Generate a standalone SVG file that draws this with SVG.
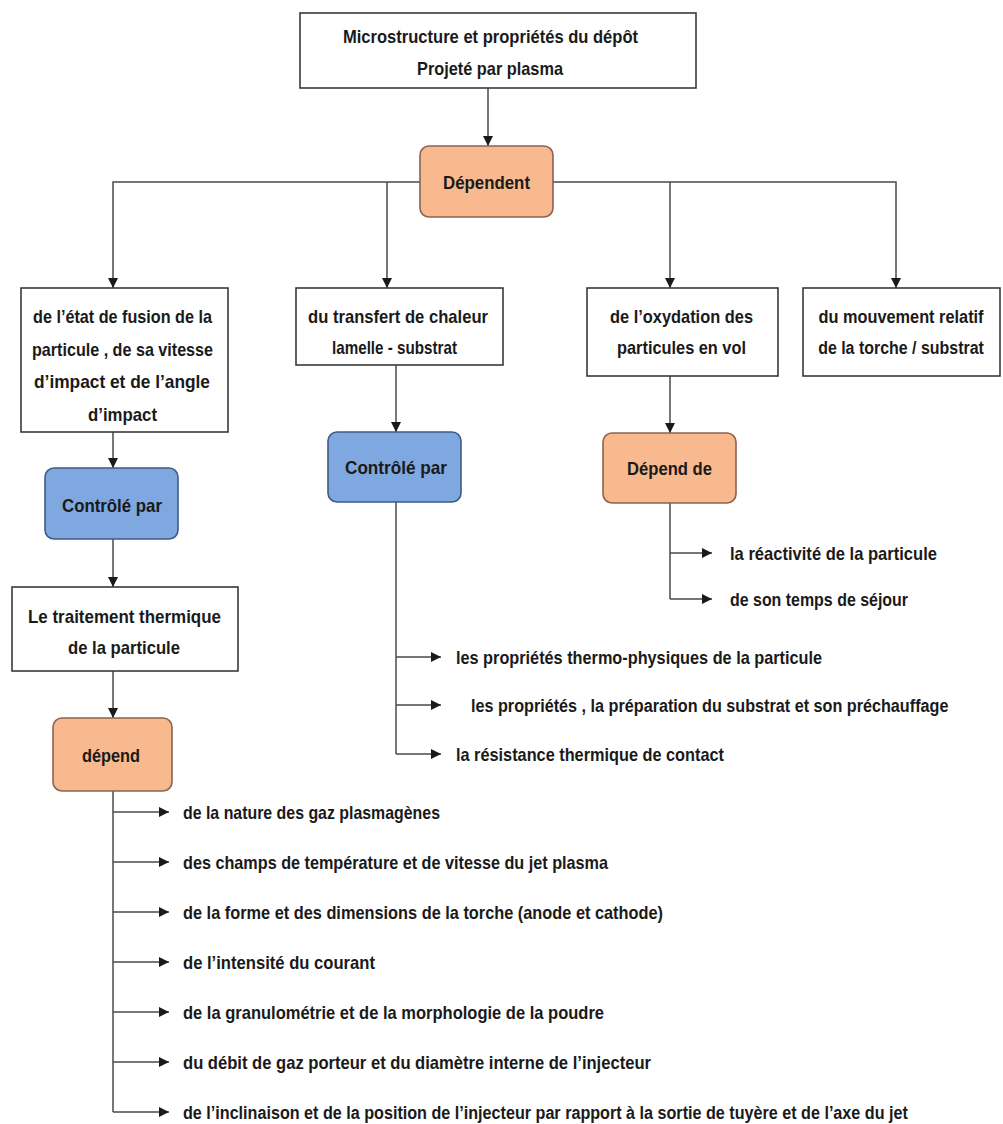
<svg xmlns="http://www.w3.org/2000/svg" width="1003" height="1124" viewBox="0 0 1003 1124">
<style>
text{font-family:"Liberation Sans",Arial,sans-serif;font-weight:bold;font-size:19px;fill:#1a1a1a}
.box{fill:#ffffff;stroke:#3a3a3a;stroke-width:1.6}
.org{fill:#F8B98E;stroke:#8a6450;stroke-width:1.6}
.blu{fill:#7FA7E0;stroke:#3f5a85;stroke-width:1.6}
.ln{fill:none;stroke:#4a4a4a;stroke-width:1.5}
</style>
<defs>
<marker id="ah" viewBox="0 0 10 10" refX="10" refY="5" markerWidth="10" markerHeight="10" markerUnits="userSpaceOnUse" orient="auto">
<path d="M0,0 L10,5 L0,10 z" fill="#1a1a1a"/>
</marker>
</defs>
<rect width="1003" height="1124" fill="#ffffff"/>
<g id="connectors">
<line class="ln" x1="488" y1="88" x2="488" y2="146" marker-end="url(#ah)"/>
<polyline class="ln" points="420,182 113,182 113,288" marker-end="url(#ah)"/>
<polyline class="ln" points="553,182 896,182 896,288" marker-end="url(#ah)"/>
<line class="ln" x1="387" y1="182" x2="387" y2="288" marker-end="url(#ah)"/>
<line class="ln" x1="670" y1="182" x2="670" y2="288" marker-end="url(#ah)"/>
<line class="ln" x1="113" y1="432" x2="113" y2="468" marker-end="url(#ah)"/>
<line class="ln" x1="113" y1="539" x2="113" y2="587" marker-end="url(#ah)"/>
<line class="ln" x1="113" y1="671" x2="113" y2="718" marker-end="url(#ah)"/>
<line class="ln" x1="113" y1="791" x2="113" y2="1112"/>
<line class="ln" x1="113" y1="812" x2="169" y2="812" marker-end="url(#ah)"/>
<line class="ln" x1="113" y1="862" x2="169" y2="862" marker-end="url(#ah)"/>
<line class="ln" x1="113" y1="912" x2="169" y2="912" marker-end="url(#ah)"/>
<line class="ln" x1="113" y1="962" x2="169" y2="962" marker-end="url(#ah)"/>
<line class="ln" x1="113" y1="1012" x2="169" y2="1012" marker-end="url(#ah)"/>
<line class="ln" x1="113" y1="1062" x2="169" y2="1062" marker-end="url(#ah)"/>
<line class="ln" x1="113" y1="1112" x2="169" y2="1112" marker-end="url(#ah)"/>
<line class="ln" x1="396" y1="365" x2="396" y2="432" marker-end="url(#ah)"/>
<line class="ln" x1="396" y1="502" x2="396" y2="754"/>
<line class="ln" x1="396" y1="657" x2="441" y2="657" marker-end="url(#ah)"/>
<line class="ln" x1="396" y1="705" x2="441" y2="705" marker-end="url(#ah)"/>
<line class="ln" x1="396" y1="754" x2="441" y2="754" marker-end="url(#ah)"/>
<line class="ln" x1="670" y1="376" x2="670" y2="433" marker-end="url(#ah)"/>
<line class="ln" x1="670" y1="503" x2="670" y2="599"/>
<line class="ln" x1="670" y1="553" x2="712" y2="553" marker-end="url(#ah)"/>
<line class="ln" x1="670" y1="599" x2="712" y2="599" marker-end="url(#ah)"/>
</g>
<g id="n-top">
<rect class="box" x="300" y="13" width="396" height="75"/>
<text x="343" y="43" textLength="295" lengthAdjust="spacingAndGlyphs">Microstructure et propriétés du dépôt</text>
<text x="417" y="75" textLength="146" lengthAdjust="spacingAndGlyphs">Projeté par plasma</text>
</g>
<g id="n-dependent">
<rect class="org" x="420" y="146" width="133" height="71" rx="9"/>
<text x="443" y="189" textLength="87" lengthAdjust="spacingAndGlyphs">Dépendent</text>
</g>
<g id="n-fusion">
<rect class="box" x="21" y="288" width="207" height="144"/>
<text x="33" y="323" textLength="179" lengthAdjust="spacingAndGlyphs">de l’état de fusion de la</text>
<text x="32" y="356" textLength="181" lengthAdjust="spacingAndGlyphs">particule ,  de sa vitesse</text>
<text x="34" y="388" textLength="176" lengthAdjust="spacingAndGlyphs">d’impact  et de l’angle</text>
<text x="88" y="421" textLength="69" lengthAdjust="spacingAndGlyphs">d’impact</text>
</g>
<g id="n-transfert">
<rect class="box" x="296" y="288" width="207" height="77"/>
<text x="308" y="323" textLength="180" lengthAdjust="spacingAndGlyphs">du transfert de chaleur</text>
<text x="332" y="354" textLength="125" lengthAdjust="spacingAndGlyphs">lamelle - substrat</text>
</g>
<g id="n-oxydation">
<rect class="box" x="587" y="288" width="191" height="88"/>
<text x="610" y="323" textLength="143" lengthAdjust="spacingAndGlyphs">de l’oxydation des</text>
<text x="617" y="354" textLength="129" lengthAdjust="spacingAndGlyphs">particules en vol</text>
</g>
<g id="n-mouvement">
<rect class="box" x="803" y="288" width="197" height="88"/>
<text transform="translate(901,323) scale(0.86,1)" text-anchor="middle">du mouvement relatif</text>
<text transform="translate(901,354) scale(0.84,1)" text-anchor="middle">de la torche / substrat</text>
</g>
<g id="n-controle1">
<rect class="blu" x="45" y="468" width="133" height="71" rx="9"/>
<text x="62" y="512" textLength="100" lengthAdjust="spacingAndGlyphs">Contrôlé par</text>
</g>
<g id="n-traitement">
<rect class="box" x="12" y="587" width="226" height="84"/>
<text x="28" y="623" textLength="193" lengthAdjust="spacingAndGlyphs">Le traitement thermique</text>
<text x="68" y="654" textLength="112" lengthAdjust="spacingAndGlyphs">de la particule</text>
</g>
<g id="n-depend">
<rect class="org" x="53" y="718" width="119" height="73" rx="9"/>
<text x="82" y="762" textLength="58" lengthAdjust="spacingAndGlyphs">dépend</text>
</g>
<g id="n-controle2">
<rect class="blu" x="328" y="432" width="133" height="70" rx="9"/>
<text x="345" y="474" textLength="102" lengthAdjust="spacingAndGlyphs">Contrôlé par</text>
</g>
<g id="n-dependde">
<rect class="org" x="603" y="433" width="133" height="70" rx="9"/>
<text x="627" y="475" textLength="85" lengthAdjust="spacingAndGlyphs">Dépend de</text>
</g>
<g id="n-list-oxydation">
<text x="730" y="560" textLength="207" lengthAdjust="spacingAndGlyphs">la réactivité de la particule</text>
<text x="730" y="606" textLength="178" lengthAdjust="spacingAndGlyphs">de son temps de séjour</text>
</g>
<g id="n-list-transfert">
<text x="456" y="664" textLength="366" lengthAdjust="spacingAndGlyphs">les propriétés thermo-physiques de la particule</text>
<text transform="translate(471,712) scale(0.852,1)">les propriétés , la préparation du substrat et son préchauffage</text>
<text x="456" y="761" textLength="268" lengthAdjust="spacingAndGlyphs">la résistance thermique de contact</text>
</g>
<g id="n-list-depend">
<text x="183" y="819" textLength="257" lengthAdjust="spacingAndGlyphs">de la nature des gaz plasmagènes</text>
<text x="183" y="869" textLength="425" lengthAdjust="spacingAndGlyphs">des champs de température et de vitesse du jet plasma</text>
<text x="183" y="919" textLength="480" lengthAdjust="spacingAndGlyphs">de la forme et des dimensions de la torche (anode et cathode)</text>
<text x="183" y="969" textLength="192" lengthAdjust="spacingAndGlyphs">de l’intensité du courant</text>
<text x="183" y="1019" textLength="421" lengthAdjust="spacingAndGlyphs">de la granulométrie et de la morphologie de la poudre</text>
<text x="183" y="1069" textLength="468" lengthAdjust="spacingAndGlyphs">du débit de gaz porteur et du diamètre interne de l’injecteur</text>
<text transform="translate(183,1119) scale(0.85,1)">de l’inclinaison et de la position de l’injecteur  par rapport à la sortie de tuyère et de l’axe du jet</text>
</g>
</svg>
